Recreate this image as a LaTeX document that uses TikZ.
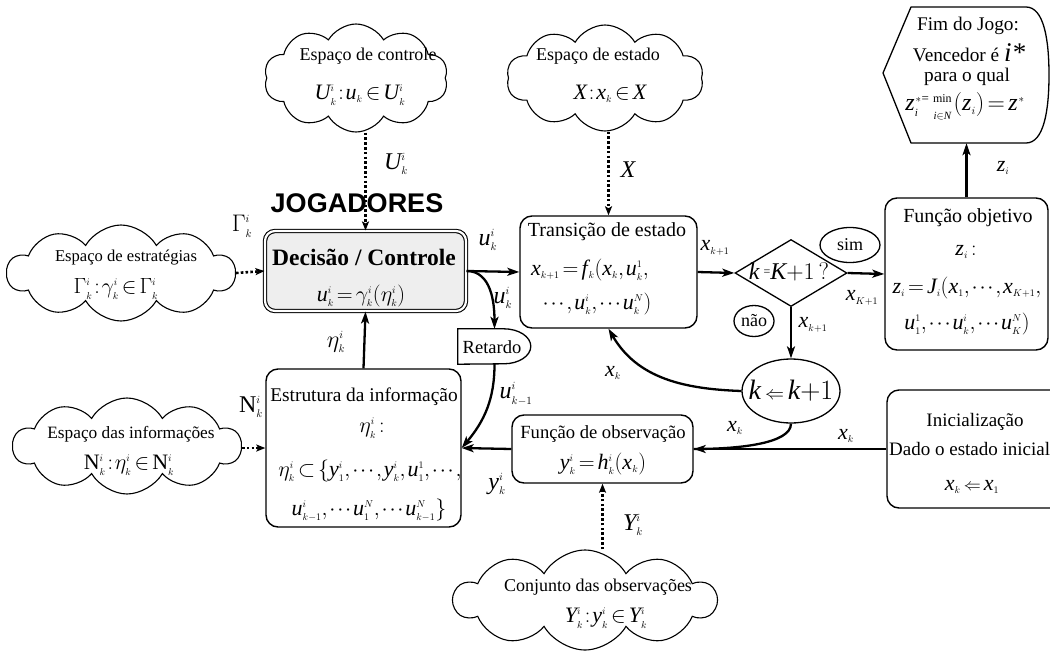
\RequirePackage{fix-cm}
\documentclass[tikz,border=0pt]{standalone}
\usepackage{fontspec}
\setmainfont{Liberation Serif}
\newfontfamily\headsans{Liberation Sans}
\usetikzlibrary{shapes.symbols,shapes.geometric,arrows.meta}
\DeclareMathSizes{18}{18}{9}{7}
\DeclareMathSizes{22}{22}{10}{8}
\DeclareMathSizes{24}{24}{11}{8}
\DeclareMathSizes{28}{28}{13}{10}
\newcommand\mi[1]{\mathit{#1}}
\newcommand\sarrow[1]{\mathrel{\hbox{\fontsize{#1}{#1}\selectfont$\Leftarrow$}}}
\newcommand\tightmath{\thickmuskip=2.5mu plus 1mu\medmuskip=1.5mu\thinmuskip=1.5mu}

\begin{document}
\begin{tikzpicture}[x=1pt,y=1pt,
  puff/.style={cloud, cloud puffs=10, cloud puff arc=120, cloud ignores aspect, draw, line width=1.1pt, inner sep=0pt},
  boxr/.style={draw, line width=1.4pt, rounded corners=12pt, inner sep=0pt},
  txt/.style={inner sep=0pt, font=\fontsize{18}{21}\selectfont},
  ttl/.style={inner sep=0pt, font=\fontsize{20}{23}\selectfont},
  eq/.style={inner sep=0pt, font=\fontsize{22}{26}\selectfont\tightmath},
  lbl/.style={inner sep=0pt, font=\fontsize{24}{28}\selectfont\tightmath},
  oval/.style={ellipse, draw, line width=1.3pt, inner sep=0pt},
  flow/.style={line width=2.3pt, -{Stealth[length=12pt,width=8pt,inset=3pt]}},
  feed/.style={line width=2.6pt, dash pattern=on 2.6pt off 2.2pt, -{Stealth[length=9pt,width=7pt,inset=2pt]}},
]
\useasboundingbox (0,0) rectangle (1050,-651);
\clip (0,0) rectangle (1050,-651);

% --- the five spaces, drawn as clouds ---
\node[puff, minimum width=184pt, minimum height=108pt] (ctrlcloud) at (356,-78) {};
\node[puff, minimum width=197pt, minimum height=106pt] (statecloud) at (605,-78) {};
\node[puff, minimum width=228pt, minimum height=96pt] (stratcloud) at (121,-273) {};
\node[puff, minimum width=228pt, minimum height=96pt] (infocloud) at (127,-446) {};
\node[puff, minimum width=262pt, minimum height=100pt] (obscloud) at (585,-600) {};

\node[txt] (ctrltitle) at (368,-56) {Espaço de controle};
\node[eq]  (ctrleq) at (360,-95) {$\mi{U}^i_k\,{:}\,\mi{u}_k\in\mi{U}^i_k$};
\node[txt] (statetitle) at (598,-56) {Espaço de estado};
\node[eq]  (stateeq) at (610,-94) {$\mi{X}\,{:}\,\mi{x}_k\in\mi{X}$};
\node[inner sep=0pt, font=\fontsize{16.6}{20}\selectfont] (strattitle) at (126,-258) {Espaço de estratégias};
\node[eq]  (strateq) at (116,-289) {$\Gamma^i_k\,{:}\,\gamma^i_k\in\Gamma^i_k$};
\node[inner sep=0pt, font=\fontsize{17.3}{20}\selectfont] (infotitle) at (131,-434) {Espaço das informações};
\node[eq]  (infoeq) at (129,-465) {$\mathrm{N}^i_k\,{:}\,\eta^i_k\in\mathrm{N}^i_k$};
\node[txt] (obstitle) at (598,-587) {Conjunto das observações};
\node[eq]  (obseq) at (606,-618) {$\mi{Y}^i_k\,{:}\,\mi{y}^i_k\in\mi{Y}^i_k$};

% --- decision block of the players ---
\node[boxr, double, double distance=2.2pt, line width=1.1pt, fill=gray!13, rounded corners=10pt,
      minimum width=201pt, minimum height=80pt] (dec) at (365.5,-271) {};
\node[inner sep=0pt, font=\fontsize{23.5}{27}\selectfont\bfseries] (dectitle) at (364,-257) {Decisão / Controle};
\node[eq] (deceq) at (361,-296) {$\mi{u}^i_k=\gamma^i_k(\eta^i_k)$};
\node[inner sep=0pt, font=\headsans\bfseries\fontsize{27}{30}\selectfont] (jog) at (357,-203) {JOGADORES};

% --- state transition ---
\node[boxr, minimum width=177pt, minimum height=112pt] (trans) at (608.5,-272) {};
\node[ttl] (transtitle) at (607,-232) {Transição de estado};
\node[eq] (transeq1) at (590,-270) {$\mi{x}_{k+1}=\mi{f}_{\,k}(\mi{x}_k,\mi{u}^1_k,$};
\node[eq] (transeq2) at (597,-304) {$\cdots,\mi{u}^i_k,\cdots\mi{u}^N_k)$};

% --- end-of-game test ---
\node[diamond, draw, line width=1.3pt, inner sep=0pt, minimum width=112pt, minimum height=67pt] (dia) at (791,-273) {};
\node[inner sep=0pt, font=\fontsize{24}{28}\selectfont] (diatext) at (789,-272) {$\mi{k}\,\raisebox{4pt}{\fontsize{12}{12}\selectfont=}\mi{K}{+}1\,?$};
\node[oval, font=\fontsize{18}{21}\selectfont, minimum width=60pt, minimum height=35pt] (sim) at (850,-245) {sim};
\node[oval, font=\fontsize{18}{21}\selectfont, minimum width=40pt, minimum height=31pt] (nao) at (754,-321) {não};
\node[oval, minimum width=98pt, minimum height=64pt] (kk) at (791,-391) {};
\node[inner sep=0pt, font=\fontsize{28}{32}\selectfont\tightmath] (kktext) at (791,-391) {$\mi{k}\sarrow{19}\mi{k}{+}1$};

% --- objective function ---
\node[boxr, minimum width=163pt, minimum height=152pt] (obj) at (966.5,-274) {};
\node[ttl] (objtitle) at (968,-218) {Função objetivo};
\node[eq] (objeq1) at (966,-252) {$\mi{z}_i:$};
\node[eq] (objeq2) at (967,-288) {$\mi{z}_i=\mi{J}_i(\mi{x}_1,\cdots,\mi{x}_{K+1},$};
\node[eq] (objeq3) at (967,-324) {$\mi{u}^1_1,\cdots\mi{u}^i_k,\cdots\mi{u}^N_K)$};

% --- end of the game (display shape) ---
\node[minimum width=165pt, minimum height=136pt, inner sep=0pt] (fim) at (966.5,-75) {};
\draw[line width=1.3pt, line join=round] (883,-73) -- (911,-7) -- (1026,-7)
  .. controls (1044,-7) and (1049,-40) .. (1049,-75)
  .. controls (1049,-110) and (1044,-143) .. (1026,-143) -- (911,-143) -- cycle;
\node[inner sep=0pt, font=\fontsize{19.3}{22}\selectfont] (fimt1) at (968,-26) {Fim do Jogo:};
\node[inner sep=0pt, font=\fontsize{19.3}{22}\selectfont] (fimt2) at (969,-53) {Vencedor é {\fontsize{27}{27}\selectfont\itshape i*}};
\node[inner sep=0pt, font=\fontsize{19.3}{22}\selectfont] (fimt3) at (967,-77) {para o qual};
\node[inner sep=0pt, font=\fontsize{24}{28}\selectfont\tightmath] (fimt4) at (965,-107)
  {$\mi{z}^{\,*}_{\mi{i}}\raisebox{8pt}{\fontsize{13}{13}\selectfont=}\,\mathop{\raisebox{8pt}{\fontsize{12}{12}\selectfont min}}\limits_{\mi{i}\in \mi{N}}\,(\mi{z}_i)=\mi{z}^{\,*}$};

% --- initialisation ---
\node[boxr, minimum width=176pt, minimum height=118pt] (init) at (975,-449) {};
\node[inner sep=0pt, font=\fontsize{19}{22}\selectfont] (initt1) at (975,-422) {Inicialização};
\node[inner sep=0pt, font=\fontsize{19}{22}\selectfont, anchor=west] (initt2) at (889,-449) {Dado o estado inicial};
\node[eq] (initeq) at (972,-487) {$\mi{x}_k\sarrow{17}\mi{x}_1$};

% --- observation function ---
\node[boxr, minimum width=181pt, minimum height=68pt] (obsb) at (602.5,-449) {};
\node[inner sep=0pt, font=\fontsize{18.6}{22}\selectfont] (obst) at (603,-434) {Função de observação};
\node[eq] (obseqb) at (603,-464) {$\mi{y}^i_k=\mi{h}^i_k(\mi{x}_k)$};

% --- information structure ---
\node[boxr, minimum width=195pt, minimum height=158pt] (est) at (363.5,-448) {};
\node[inner sep=0pt, font=\fontsize{19.4}{22}\selectfont] (estt) at (364,-397) {Estrutura da informação};
\node[eq] (este1) at (372,-428) {$\eta^i_k:$};
\node[eq] (este2) at (370,-471) {$\eta^i_k\subset\{\mi{y}^i_1,\cdots,\mi{y}^i_k,\mi{u}^1_1,\cdots,$};
\node[eq] (este3) at (369,-510) {$\mi{u}^i_{k-1},\cdots\mi{u}^N_1,\cdots\mi{u}^N_{k-1}\}$};

% --- delay ---
\node[minimum width=73pt, minimum height=35pt, inner sep=0pt] (ret) at (494.5,-346.5) {};
\draw[line width=1.3pt] (ret.south west) -- (ret.north west) -- ++(46,0)
  arc[start angle=90, end angle=-90, x radius=27, y radius=17.5] -- cycle;
\node[inner sep=0pt, font=\fontsize{18.5}{21}\selectfont] (rett) at (492,-347) {Retardo};

% --- connectors ---
\draw[feed] (ctrlcloud.south -| dec.north) -- (dec.north);
\draw[feed] (statecloud.south -| trans.north) -- (trans.north);
\draw[feed] (stratcloud.east) -- (dec.west);
\draw[feed] (infocloud.east |- est.west) -- (est.west);
\draw[feed] (obscloud.north -| obsb.south) -- (obsb.south);

\draw[flow] (dec.east) -- (trans.west);
\draw[flow] (dec.east) to[out=0,in=90] (ret.north);
\draw[flow] (ret.south) to[out=-90,in=50] (est.east);
\draw[flow] (obsb.west) -- (est.east);
\draw[flow] (est.north) -- (dec.south);
\draw[flow] (trans.east) -- (dia.west);
\draw[flow] (dia.east) -- (obj.west);
\draw[flow] (dia.south) -- (kk.north);
\draw[flow] (kk.west) to[out=178,in=-60] (trans.south);
\draw[line width=2.3pt] (kk.south) .. controls +(0,-20) and +(45,0) .. (obsb.east);
\draw[flow] (init.west) -- (obsb.east);
\draw[flow] (obj.north) -- (fim.south);

% --- connector labels ---
\node[lbl] (lblU) at (396,-164) {$\mi{U}^i_k$};
\node[lbl] (lblX) at (628,-170) {$\mi{X}$};
\node[lbl] (lblG) at (242,-226) {$\Gamma^i_k$};
\node[lbl] (lblN) at (251,-407) {$\mathrm{N}^i_k$};
\node[lbl] (lblY) at (633,-525) {$\mi{Y}^i_k$};
\node[lbl] (lblu1) at (488,-240) {$\mi{u}^i_k$};
\node[lbl] (lblu2) at (503,-298) {$\mi{u}^i_k$};
\node[lbl] (lblu3) at (516,-394) {$\mi{u}^i_{k-1}$};
\node[lbl] (lbly) at (497,-484) {$\mi{y}^i_k$};
\node[lbl] (lbleta) at (336,-342) {$\eta^i_k$};
\node[eq] (lblxa) at (715,-248) {$\mi{x}_{k+1}$};
\node[eq] (lblxb) at (862,-298) {$\mi{x}_{K+1}$};
\node[eq] (lblxc) at (813,-325) {$\mi{x}_{k+1}$};
\node[eq] (lblxd) at (613,-373) {$\mi{x}_k$};
\node[eq] (lblxe) at (735,-428) {$\mi{x}_k$};
\node[eq] (lblxf) at (846,-436) {$\mi{x}_k$};
\node[eq] (lblz) at (1003,-168) {$\mi{z}_i$};
\end{tikzpicture}
\end{document}
